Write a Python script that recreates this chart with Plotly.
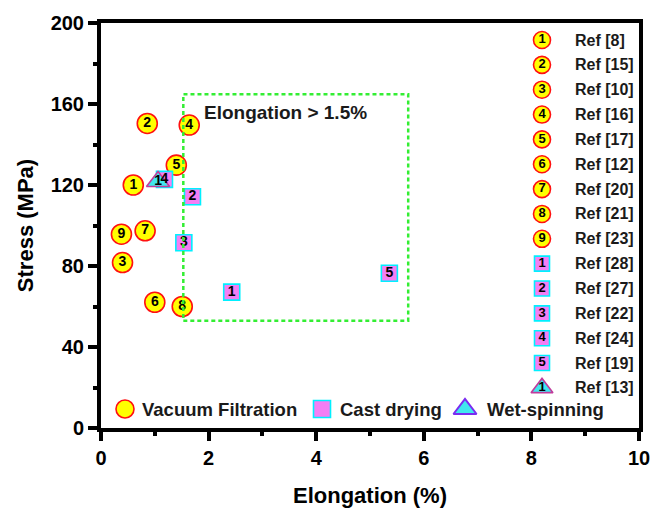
import plotly.graph_objects as go

# ---------------- data ----------------
vf_labels = ["1", "2", "3", "4", "5", "6", "7", "8", "9"]
vf_x = [0.60, 0.86, 0.40, 1.64, 1.40, 1.00, 0.82, 1.51, 0.38]
vf_y = [120.0, 150.4, 81.7, 149.6, 129.8, 62.1, 97.4, 60.0, 95.7]
vf_refs = ["Ref [8]", "Ref [15]", "Ref [10]", "Ref [16]", "Ref [17]",
           "Ref [12]", "Ref [20]", "Ref [21]", "Ref [23]"]

cd_labels = ["1", "2", "3", "4", "5"]
cd_x = [2.43, 1.70, 1.54, 1.18, 5.36]
cd_y = [67.1, 114.2, 91.5, 122.8, 76.4]
cd_refs = ["Ref [28]", "Ref [27]", "Ref [22]", "Ref [24]", "Ref [19]"]

ws_labels = ["1"]
ws_x = [1.06]
ws_y = [121.7]
ws_refs = ["Ref [13]"]

box_x = [1.53, 5.71]
box_y = [53.0, 164.8]
box_label = "Elongation > 1.5%"

x_ticks = [0, 2, 4, 6, 8, 10]
y_ticks = [0, 40, 80, 120, 160, 200]

# ---------------- geometry ----------------
FONT = "Liberation Sans, Arial, sans-serif"
W, H = 651, 508
PL, PR, PT, PB = 101, 639, 23, 428          # plot box in window pixels
ML, MT = PL, PT
MR, MB = W - PR, H - PB
PW, PH = PR - PL, PB - PT


def fx(px):
    return (px - PL) / PW


def fy(py):
    return (PB - py) / PH


circ = dict(symbol="circle", color="#ffff00", line=dict(color="#ff1010", width=1.6))
sq = dict(symbol="square", color="#f47ef4", line=dict(color="#00f0ff", width=1.6))
tri = dict(symbol="triangle-up", color="#40e8ee", line=dict(color="#c03c9c", width=1.6))
numfont = dict(family=FONT, size=14, color="black", weight="bold")

fig = go.Figure()

# data markers
fig.add_trace(go.Scatter(x=vf_x, y=vf_y, mode="markers",
                         marker=dict(size=20, **circ), showlegend=False, cliponaxis=False))
fig.add_trace(go.Scatter(x=cd_x, y=cd_y, mode="markers",
                         marker=dict(size=16, **sq), showlegend=False, cliponaxis=False))
fig.add_trace(go.Scatter(x=ws_x, y=ws_y, mode="markers",
                         marker=dict(size=20, **tri), showlegend=False, cliponaxis=False))
# number labels on top of all markers
for xs, ys, labs in ((vf_x, vf_y, vf_labels), (cd_x, cd_y, cd_labels), (ws_x, ws_y, ws_labels)):
    fig.add_trace(go.Scatter(x=xs, y=ys, mode="text", text=labs,
                             textposition="middle center", textfont=numfont,
                             showlegend=False, cliponaxis=False, hoverinfo="skip"))

# ---------------- right-hand reference legend (overlay axes in plot fractions) ----------------
all_labels = vf_labels + cd_labels + ws_labels
all_refs = vf_refs + cd_refs + ws_refs
kinds = ["c"] * len(vf_labels) + ["s"] * len(cd_labels) + ["t"] * len(ws_labels)
leg_y = [fy(40 + 24.85 * i) for i in range(len(all_refs))]
mk_x = fx(542)
tx_x = fx(573)
for kind, style, size in (("c", circ, 17), ("s", sq, 15), ("t", tri, 19)):
    idx = [i for i, k in enumerate(kinds) if k == kind]
    fig.add_trace(go.Scatter(
        x=[mk_x] * len(idx), y=[leg_y[i] for i in idx], xaxis="x2", yaxis="y2",
        mode="markers+text", text=[all_labels[i] for i in idx],
        textposition="middle center",
        textfont=dict(family=FONT, size=13, color="black", weight="bold"),
        marker=dict(size=size, **style), showlegend=False, cliponaxis=False))
for i, r in enumerate(all_refs):
    fig.add_annotation(x=tx_x, y=leg_y[i], xref="x2", yref="y2", text=r,
                       showarrow=False, xanchor="left", yanchor="middle",
                       font=dict(family=FONT, size=16, color="#1a1a1a", weight="bold"))

# ---------------- bottom legend ----------------
bot_names = ["Vacuum Filtration", "Cast drying", "Wet-spinning"]
bot_mx = [fx(125), fx(322), fx(465)]
bot_tx = [fx(140), fx(338), fx(485)]
bot_markers = [dict(size=18, **circ), dict(size=17, **sq),
               dict(size=20, symbol="triangle-up", color="#40e8ee",
                    line=dict(color="#7a2cf0", width=2))]
by = fy(409)
for name, mx, tx, mk in zip(bot_names, bot_mx, bot_tx, bot_markers):
    fig.add_trace(go.Scatter(x=[mx], y=[by], xaxis="x2", yaxis="y2", mode="markers",
                             marker=mk, showlegend=False, cliponaxis=False))
    fig.add_annotation(x=tx, y=by, xref="x2", yref="y2", text=name, showarrow=False,
                       xanchor="left", yanchor="middle",
                       font=dict(family=FONT, size=18.5, color="#1a1a1a", weight="bold"))

# ---------------- dashed box & label ----------------
fig.add_shape(type="rect", x0=box_x[0], x1=box_x[1], y0=box_y[0], y1=box_y[1],
              xref="x", yref="y", layer="above",
              line=dict(color="#33ee33", width=2.5, dash="4px,3px"))
fig.add_annotation(x=(box_x[0] + box_x[1]) / 2 - 0.2, y=156, xref="x", yref="y",
                   text=box_label, showarrow=False,
                   font=dict(family=FONT, size=19, color="#1a1a1a", weight="bold"))

axis_common = dict(
    showline=True, linecolor="black", linewidth=4, mirror=True,
    ticks="outside", ticklen=9, tickwidth=4, tickcolor="black",
    showgrid=False, zeroline=False, automargin=False,
    tickfont=dict(family=FONT, size=20, color="black", weight="bold"),
)

fig.update_layout(
    width=W, height=H,
    margin=dict(l=ML, r=MR, t=MT, b=MB),
    paper_bgcolor="white", plot_bgcolor="white",
    xaxis=dict(range=[0, 10], tickvals=x_ticks, ticktext=[str(v) for v in x_ticks],
               minor=dict(tickvals=[1, 3, 5, 7, 9], ticklen=4, tickwidth=4,
                          ticks="outside", tickcolor="black"),
               title=dict(text="Elongation (%)", standoff=22,
                          font=dict(family=FONT, size=22, color="black", weight="bold")),
               **axis_common),
    yaxis=dict(range=[0, 200], tickvals=y_ticks, ticktext=[str(v) for v in y_ticks],
               minor=dict(tickvals=[20, 60, 100, 140, 180], ticklen=4, tickwidth=4,
                          ticks="outside", tickcolor="black"),
               title=dict(text="Stress (MPa)", standoff=12,
                          font=dict(family=FONT, size=22, color="black", weight="bold")),
               **axis_common),
    xaxis2=dict(overlaying="x", range=[0, 1], visible=False, fixedrange=True),
    yaxis2=dict(overlaying="y", range=[0, 1], visible=False, fixedrange=True),
    showlegend=False,
)

# remove the browser's default 8px body margin so the figure sits at the window origin
fig.write_html("out.html", config={"displayModeBar": False},
               post_script="document.body.style.margin='0';document.body.style.overflow='hidden';")
